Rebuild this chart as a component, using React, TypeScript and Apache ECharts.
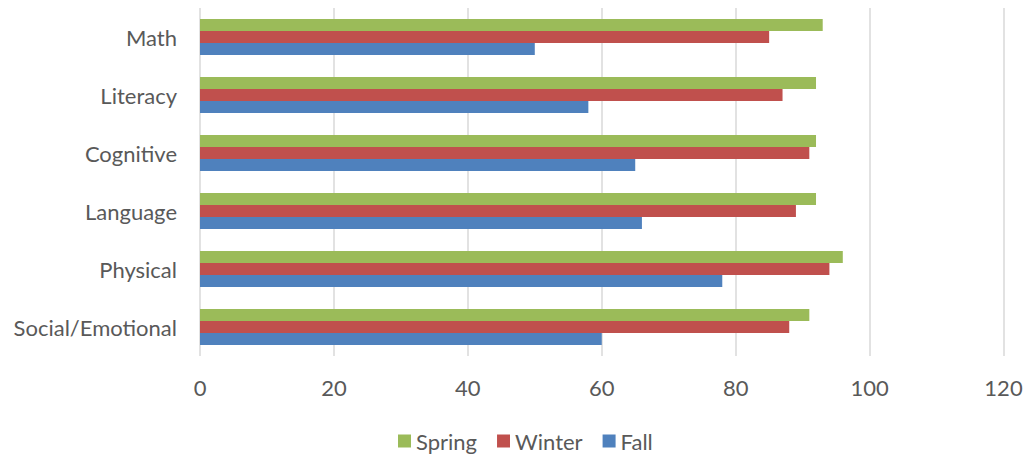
import React, { useEffect, useRef } from "react";
import * as echarts from "echarts";

const categories = ["Social/Emotional", "Physical", "Language", "Cognitive", "Literacy", "Math"];
const fallValues = [60, 78, 66, 65, 58, 50];
const winterValues = [88, 94, 89, 91, 87, 85];
const springValues = [91, 96, 92, 92, 92, 93];
const legendOrder = ["Spring", "Winter", "Fall"];

const FONT = "Lato";
const TEXT = "#595959";

export default function App() {
  const ref = useRef<HTMLDivElement>(null);
  useEffect(() => {
    if (!ref.current) return;
    const chart = echarts.init(ref.current, undefined, { renderer: "svg" });
    const barStyle = (color: string) => ({
      type: "bar" as const,
      barWidth: 12,
      barGap: "0%",
      itemStyle: { color },
    });
    chart.setOption({
      animation: false,
      textStyle: { fontFamily: FONT },
      grid: { left: 200, right: 23.5, top: 8, height: 348, containLabel: false },
      xAxis: {
        type: "value",
        min: 0,
        max: 120,
        interval: 20,
        axisLine: { show: false },
        axisTick: { show: false },
        axisLabel: { color: TEXT, fontSize: 22, margin: 20, fontFamily: FONT },
        splitLine: { show: true, lineStyle: { color: "#d9d9d9", width: 1.5 } },
      },
      yAxis: {
        type: "category",
        data: categories,
        axisLine: { show: false },
        axisTick: { show: false },
        axisLabel: { color: TEXT, fontSize: 22, margin: 23, fontFamily: FONT, padding: [0, 0, 5, 0] },
        splitLine: { show: false },
      },
      legend: {
        data: legendOrder,
        top: 430,
        left: 398,
        padding: 0,
        itemWidth: 13,
        itemHeight: 13,
        itemGap: 20,
        icon: "rect",
        textStyle: { color: TEXT, fontSize: 22, fontFamily: FONT },
      },
      series: [
        { ...barStyle("#9BBB59"), name: "Spring", data: springValues },
        { ...barStyle("#C0504D"), name: "Winter", data: winterValues },
        { ...barStyle("#4F81BD"), name: "Fall", data: fallValues },
      ],
    });
    return () => chart.dispose();
  }, []);
  return <div ref={ref} style={{ width: 1027, height: 455, position: "absolute", left: 0, top: 0 }} />;
}
